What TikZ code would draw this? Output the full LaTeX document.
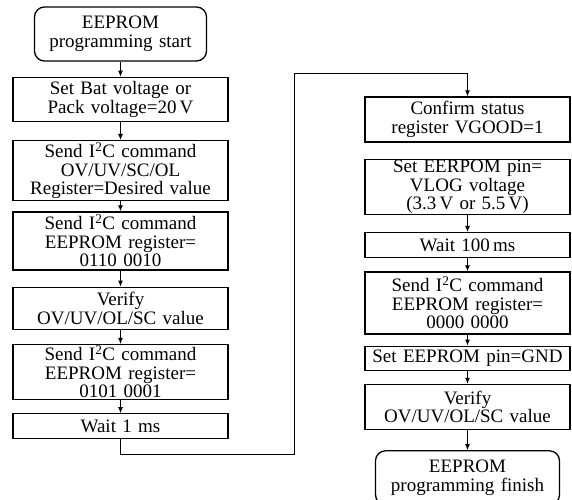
\documentclass[tikz,border=0pt]{standalone}
\usepackage{fontspec}
\setmainfont{Liberation Serif}
\usetikzlibrary{arrows.meta, positioning}

\begin{document}
\begin{tikzpicture}[
          x=1pt, y=-1pt,
          stepbox/.style={rectangle, draw, line width=1.3pt, text width=#1, align=center, inner xsep=2pt, inner ysep=0pt, font=\fontsize{19}{18.5}\selectfont},
          stepbox/.default=211pt,
          termbox/.style={stepbox=#1, rounded corners=10pt},
          arrow/.style={-{Latex[length=6pt,width=5pt]}, line width=0.9pt}
        ]
          \useasboundingbox (0,0) rectangle (572,499);

          % left column
          \node (start) [termbox=168pt, minimum height=54pt] at (120.5,34) {EEPROM\\programming start};
          \node (setbat) [stepbox, minimum height=44pt, below=15pt of start] {Set Bat voltage or\\Pack voltage=20\,V};
          \node (sendov) [stepbox, minimum height=60pt, below=18pt of setbat] {Send I\textsuperscript{2}C command\\OV/UV/SC/OL\\Register=Desired value};
          \node (sendeea) [stepbox, minimum height=58pt, below=10pt of sendov] {Send I\textsuperscript{2}C command\\EEPROM register=\\0110 0010};
          \node (verifya) [stepbox, minimum height=42pt, below=16pt of sendeea] {Verify\\OV/UV/OL/SC value};
          \node (sendeeb) [stepbox, minimum height=55pt, below=14pt of verifya] {Send I\textsuperscript{2}C command\\EEPROM register=\\0101 0001};
          \node (waita) [stepbox, minimum height=25pt, below=13pt of sendeeb] {Wait 1 ms};

          % right column
          \node (confirm) [stepbox=201pt, minimum height=45pt] at (467.5,119.5) {Confirm status\\register VGOOD=1};
          \node (setpin) [stepbox=201pt, minimum height=55pt, below=16pt of confirm] {Set EERPOM pin=\\VLOG voltage\\(3.3\,V or 5.5\,V)};
          \node (waitb) [stepbox=201pt, minimum height=25pt, below=17pt of setpin] {Wait 100\,ms};
          \node (sendeec) [stepbox=201pt, minimum height=62pt, below=13pt of waitb] {Send I\textsuperscript{2}C command\\EEPROM register=\\0000 0000};
          \node (setgnd) [stepbox=201pt, minimum height=24pt, below=11pt of sendeec] {Set EEPROM pin=GND};
          \node (verifyb) [stepbox=201pt, minimum height=45pt, below=13pt of setgnd] {Verify\\OV/UV/OL/SC value};
          \node (finish) [termbox=180pt, minimum height=54pt, below=20pt of verifyb] {EEPROM\\programming finish};

          \draw [arrow] (start) -- (setbat);
          \draw [arrow] (setbat) -- (sendov);
          \draw [arrow] (sendov) -- (sendeea);
          \draw [arrow] (sendeea) -- (verifya);
          \draw [arrow] (verifya) -- (sendeeb);
          \draw [arrow] (sendeeb) -- (waita);

          \coordinate (turnlow) at (294,454);
          \coordinate (turnhigh) at (294,73);
          \draw [arrow] (waita.south) |- (turnlow) -- (turnhigh) -| (confirm.north);

          \draw [arrow] (setpin) -- (waitb);
          \draw [arrow] (waitb) -- (sendeec);
          \draw [arrow] (sendeec) -- (setgnd);
          \draw [arrow] (setgnd) -- (verifyb);
          \draw [arrow] (verifyb) -- (finish);
        \end{tikzpicture}
\end{document}
